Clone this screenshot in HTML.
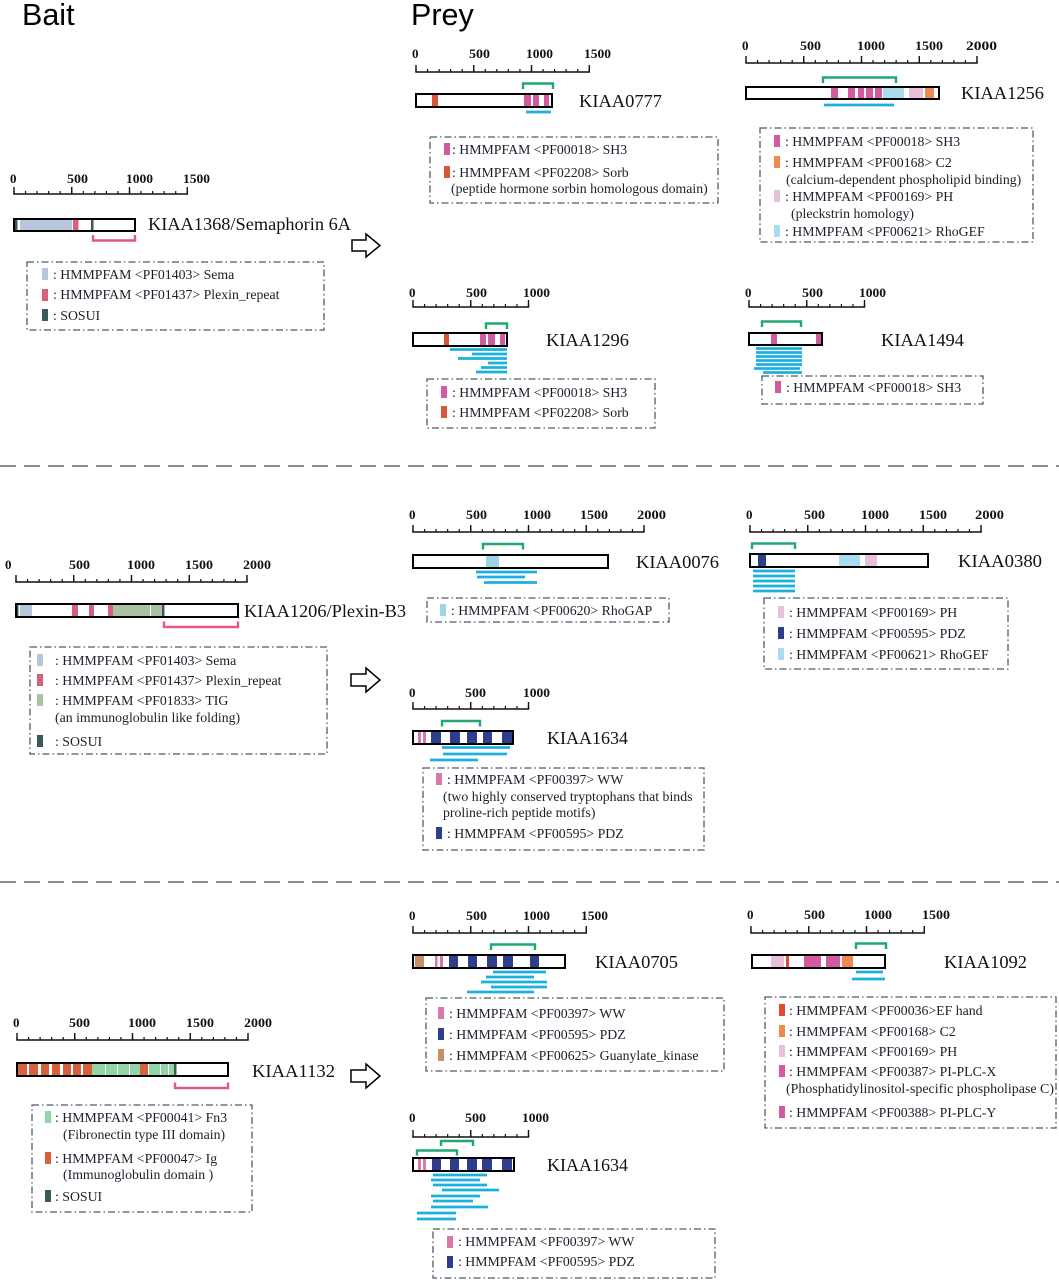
<!DOCTYPE html>
<html><head><meta charset="utf-8">
<style>
html,body{margin:0;padding:0;background:#fff;}
svg{display:block;}
.lg{font-family:"Liberation Serif",serif;font-size:13.8px;fill:#1d1d2b;}
.nm{font-family:"Liberation Serif",serif;font-size:18.4px;fill:#111;}
.sc{font-family:"Liberation Serif",serif;font-size:13px;font-weight:bold;fill:#111;}
.hd{font-family:"Liberation Sans",sans-serif;font-size:30.5px;fill:#000;}
.box{fill:none;stroke:#4e5a68;stroke-width:1.3;stroke-dasharray:7 3 1.5 3;}
.bar{fill:none;stroke:#000;stroke-width:2;}
.gb{fill:none;stroke:#20a870;stroke-width:2.4;}
.pb{fill:none;stroke:#e35a80;stroke-width:2.4;}
.cy{stroke:#1cb0de;stroke-width:2.8;}
.rm{stroke:#111;stroke-width:1.6;}
.rn{stroke:#111;stroke-width:3;stroke-dasharray:1.2 10.35;}
.rj{stroke:#111;stroke-width:7;stroke-dasharray:1.4 56.35;}
.ar{fill:#fff;stroke:#000;stroke-width:1.5;}
.sep{stroke:#444;stroke-width:1.2;stroke-dasharray:16 8;}
</style></head><body>
<svg width="1059" height="1280" viewBox="0 0 1059 1280" xmlns="http://www.w3.org/2000/svg">
<rect width="1059" height="1280" fill="#fff"/>

<text class="hd" x="22" y="25">Bait</text>
<text class="hd" x="411" y="25">Prey</text>

<line class="sep" x1="0" y1="466" x2="1059" y2="466"/>
<line class="sep" x1="0" y1="882" x2="1059" y2="882"/>

<!-- ================= SECTION 1 ================= -->
<g>
<line class="rm" x1="13.3" y1="194" x2="188" y2="194"/>
<line class="rn" x1="13.4" y1="192.5" x2="188" y2="192.5"/>
<line class="rj" x1="13.3" y1="190.5" x2="188" y2="190.5"/>
<text class="sc" x="10" y="183">0</text>
<text class="sc" x="67" y="183" textLength="21" lengthAdjust="spacingAndGlyphs">500</text>
<text class="sc" x="126" y="183" textLength="27" lengthAdjust="spacingAndGlyphs">1000</text>
<text class="sc" x="183" y="183" textLength="27" lengthAdjust="spacingAndGlyphs">1500</text>
</g>
<rect x="14" y="219" width="121" height="12" fill="#fff"/>
<rect x="15" y="219" width="2.5" height="12" fill="#3c5858"/>
<rect x="20" y="219" width="52" height="12" fill="#b7c5dd"/>
<rect x="73" y="219" width="5.5" height="12" fill="#d9607c"/>
<rect x="91" y="219" width="2.5" height="12" fill="#3c5858"/>
<rect class="bar" x="14" y="219" width="121" height="12"/>
<path class="pb" d="M93 235 V240.5 H135 V235"/>
<text class="nm" x="148" y="230" textLength="203" lengthAdjust="spacingAndGlyphs">KIAA1368/Semaphorin 6A</text>
<path class="ar" d="M352 240 H366 V234 L380 245.5 L366 257 V251 H352 Z"/>
<rect class="box" x="27" y="262" width="297" height="68"/>
<rect x="42" y="268" width="6" height="12" fill="#b7c5dd"/>
<text class="lg" x="53" y="279">: HMMPFAM &lt;PF01403&gt; Sema</text>
<rect x="42" y="289" width="6" height="12" fill="#d9607c"/>
<text class="lg" x="53" y="299">: HMMPFAM &lt;PF01437&gt; Plexin_repeat</text>
<rect x="42" y="309" width="6" height="12" fill="#3c5858"/>
<text class="lg" x="53" y="320">: SOSUI</text>

<!-- KIAA0777 -->
<g>
<line class="rm" x1="415.3" y1="72" x2="590" y2="72"/>
<line class="rn" x1="415.4" y1="70.5" x2="590" y2="70.5"/>
<line class="rj" x1="415.3" y1="68.5" x2="590" y2="68.5"/>
<text class="sc" x="412" y="58">0</text>
<text class="sc" x="469" y="58" textLength="21" lengthAdjust="spacingAndGlyphs">500</text>
<text class="sc" x="526" y="58" textLength="27" lengthAdjust="spacingAndGlyphs">1000</text>
<text class="sc" x="584" y="58" textLength="27" lengthAdjust="spacingAndGlyphs">1500</text>
</g>
<rect x="416" y="94" width="136" height="13" fill="#fff"/>
<rect x="432" y="94" width="6" height="13" fill="#d9553e"/>
<rect x="524" y="94" width="7" height="13" fill="#d45a9f"/>
<rect x="533" y="94" width="6" height="13" fill="#d45a9f"/>
<rect x="544" y="94" width="5" height="13" fill="#d45a9f"/>
<rect class="bar" x="416" y="94" width="136" height="13"/>
<path class="gb" d="M523 89 V83.5 H553 V89"/>
<line class="cy" x1="526" y1="112" x2="551" y2="112"/>
<text class="nm" x="579" y="107" textLength="83" lengthAdjust="spacingAndGlyphs">KIAA0777</text>
<rect class="box" x="430" y="137" width="288" height="66"/>
<rect x="444" y="143" width="6" height="12" fill="#d45a9f"/>
<text class="lg" x="452" y="154">: HMMPFAM &lt;PF00018&gt; SH3</text>
<rect x="444" y="166" width="6" height="12" fill="#d9553e"/>
<text class="lg" x="452" y="177">: HMMPFAM &lt;PF02208&gt; Sorb</text>
<text class="lg" x="451" y="193">(peptide hormone sorbin homologous domain)</text>

<!-- KIAA1256 -->
<g>
<line class="rm" x1="745.3" y1="63" x2="977.7" y2="63"/>
<line class="rn" x1="745.4" y1="61.5" x2="978" y2="61.5"/>
<line class="rj" x1="745.3" y1="59.5" x2="978" y2="59.5"/>
<text class="sc" x="742" y="50">0</text>
<text class="sc" x="800" y="50" textLength="21" lengthAdjust="spacingAndGlyphs">500</text>
<text class="sc" x="857" y="50" textLength="28" lengthAdjust="spacingAndGlyphs">1000</text>
<text class="sc" x="915" y="50" textLength="28" lengthAdjust="spacingAndGlyphs">1500</text>
<text class="sc" x="966" y="50" textLength="31" lengthAdjust="spacingAndGlyphs">2000</text>
</g>
<rect x="746" y="87" width="193" height="12" fill="#fff"/>
<rect x="831" y="87" width="7" height="12" fill="#d45a9f"/>
<rect x="848" y="87" width="7" height="12" fill="#d45a9f"/>
<rect x="858" y="87" width="6" height="12" fill="#d45a9f"/>
<rect x="866" y="87" width="7" height="12" fill="#d45a9f"/>
<rect x="875" y="87" width="7" height="12" fill="#d45a9f"/>
<rect x="883" y="87" width="21" height="12" fill="#a9dcf1"/>
<rect x="909" y="87" width="14" height="12" fill="#e9c0da"/>
<rect x="925" y="87" width="9" height="12" fill="#ee8a4c"/>
<rect class="bar" x="746" y="87" width="193" height="12"/>
<path class="gb" d="M823 83 V77.5 H896 V83"/>
<line class="cy" x1="824" y1="105" x2="894" y2="105"/>
<text class="nm" x="961" y="99" textLength="83" lengthAdjust="spacingAndGlyphs">KIAA1256</text>
<rect class="box" x="760" y="128" width="273" height="114"/>
<rect x="774" y="135" width="6" height="12" fill="#d45a9f"/>
<text class="lg" x="785" y="146">: HMMPFAM &lt;PF00018&gt; SH3</text>
<rect x="774" y="156" width="6" height="12" fill="#ee8a4c"/>
<text class="lg" x="785" y="167">: HMMPFAM &lt;PF00168&gt; C2</text>
<text class="lg" x="786" y="184">(calcium-dependent phospholipid binding)</text>
<rect x="774" y="190" width="6" height="12" fill="#e9c0da"/>
<text class="lg" x="785" y="201">: HMMPFAM &lt;PF00169&gt; PH</text>
<text class="lg" x="791" y="218">(pleckstrin homology)</text>
<rect x="774" y="225" width="6" height="12" fill="#a9dcf1"/>
<text class="lg" x="785" y="236">: HMMPFAM &lt;PF00621&gt; RhoGEF</text>

<!-- KIAA1296 -->
<g>
<line class="rm" x1="412.3" y1="307" x2="529.2" y2="307"/>
<line class="rn" x1="412.4" y1="305.5" x2="529.5" y2="305.5"/>
<line class="rj" x1="412.3" y1="303.5" x2="529.5" y2="303.5"/>
<text class="sc" x="409" y="297">0</text>
<text class="sc" x="466" y="297" textLength="21" lengthAdjust="spacingAndGlyphs">500</text>
<text class="sc" x="523" y="297" textLength="27" lengthAdjust="spacingAndGlyphs">1000</text>
</g>
<rect x="413" y="333" width="94" height="13" fill="#fff"/>
<rect x="444" y="333" width="5" height="13" fill="#d9553e"/>
<rect x="480" y="333" width="6" height="13" fill="#d45a9f"/>
<rect x="488" y="333" width="7" height="13" fill="#d45a9f"/>
<rect x="500" y="333" width="5" height="13" fill="#d45a9f"/>
<rect class="bar" x="413" y="333" width="94" height="13"/>
<path class="gb" d="M486 329 V323.5 H507 V329"/>
<line class="cy" x1="450" y1="349.5" x2="507" y2="349.5"/>
<line class="cy" x1="472" y1="354" x2="507" y2="354"/>
<line class="cy" x1="458" y1="358.5" x2="507" y2="358.5"/>
<line class="cy" x1="488" y1="363" x2="507" y2="363"/>
<line class="cy" x1="481" y1="367.5" x2="507" y2="367.5"/>
<line class="cy" x1="476" y1="372" x2="507" y2="372"/>
<text class="nm" x="546" y="346" textLength="83" lengthAdjust="spacingAndGlyphs">KIAA1296</text>
<rect class="box" x="427" y="379" width="228" height="49"/>
<rect x="441" y="386" width="6" height="12" fill="#d45a9f"/>
<text class="lg" x="452" y="397">: HMMPFAM &lt;PF00018&gt; SH3</text>
<rect x="441" y="406" width="6" height="12" fill="#d9553e"/>
<text class="lg" x="452" y="417">: HMMPFAM &lt;PF02208&gt; Sorb</text>

<!-- KIAA1494 -->
<g>
<line class="rm" x1="748.3" y1="307" x2="865.2" y2="307"/>
<line class="rn" x1="748.4" y1="305.5" x2="865.5" y2="305.5"/>
<line class="rj" x1="748.3" y1="303.5" x2="865.5" y2="303.5"/>
<text class="sc" x="745" y="297">0</text>
<text class="sc" x="802" y="297" textLength="21" lengthAdjust="spacingAndGlyphs">500</text>
<text class="sc" x="859" y="297" textLength="27" lengthAdjust="spacingAndGlyphs">1000</text>
</g>
<rect x="749" y="333" width="73" height="12" fill="#fff"/>
<rect x="771" y="333" width="6" height="12" fill="#d45a9f"/>
<rect x="816" y="333" width="5" height="12" fill="#d45a9f"/>
<rect class="bar" x="749" y="333" width="73" height="12"/>
<path class="gb" d="M762 327 V321.5 H801 V327"/>
<line class="cy" x1="756" y1="348.5" x2="802" y2="348.5"/>
<line class="cy" x1="756" y1="352.5" x2="802" y2="352.5"/>
<line class="cy" x1="756" y1="356.5" x2="802" y2="356.5"/>
<line class="cy" x1="756" y1="360.5" x2="802" y2="360.5"/>
<line class="cy" x1="756" y1="364.5" x2="802" y2="364.5"/>
<line class="cy" x1="754" y1="368.5" x2="800" y2="368.5"/>
<line class="cy" x1="763" y1="372.5" x2="802" y2="372.5"/>
<text class="nm" x="881" y="346" textLength="83" lengthAdjust="spacingAndGlyphs">KIAA1494</text>
<rect class="box" x="762" y="376" width="221" height="28"/>
<rect x="775" y="381" width="6" height="12" fill="#d45a9f"/>
<text class="lg" x="786" y="392">: HMMPFAM &lt;PF00018&gt; SH3</text>

<!-- ================= SECTION 2 ================= -->
<g>
<line class="rm" x1="15.3" y1="582" x2="247.7" y2="582"/>
<line class="rn" x1="15.4" y1="580.5" x2="248" y2="580.5"/>
<line class="rj" x1="15.3" y1="578.5" x2="248" y2="578.5"/>
<text class="sc" x="5" y="569">0</text>
<text class="sc" x="69" y="569" textLength="21" lengthAdjust="spacingAndGlyphs">500</text>
<text class="sc" x="127" y="569" textLength="28" lengthAdjust="spacingAndGlyphs">1000</text>
<text class="sc" x="185" y="569" textLength="28" lengthAdjust="spacingAndGlyphs">1500</text>
<text class="sc" x="243" y="569" textLength="28" lengthAdjust="spacingAndGlyphs">2000</text>
</g>
<rect x="16" y="604" width="222" height="13" fill="#fff"/>
<rect x="16" y="604" width="2.5" height="13" fill="#3c5858"/>
<rect x="20" y="604" width="12" height="13" fill="#b7c5dd"/>
<rect x="72" y="604" width="6" height="13" fill="#d9607c"/>
<rect x="89" y="604" width="5" height="13" fill="#d9607c"/>
<rect x="108" y="604" width="5" height="13" fill="#d9607c"/>
<rect x="113" y="604" width="50" height="13" fill="#a9c3a0"/>
<rect x="150" y="604" width="1" height="13" fill="#fff"/>
<rect x="162" y="604" width="2.5" height="13" fill="#3c5858"/>
<rect class="bar" x="16" y="604" width="222" height="13"/>
<path class="pb" d="M164 621.5 V627 H238 V621.5"/>
<text class="nm" x="244" y="617" textLength="162" lengthAdjust="spacingAndGlyphs">KIAA1206/Plexin-B3</text>
<path class="ar" d="M351 674 H366 V668 L380 680 L366 692 V686 H351 Z"/>
<rect class="box" x="30" y="647" width="297" height="107"/>
<rect x="37" y="654" width="6" height="12" fill="#b7c5dd"/>
<text class="lg" x="55" y="665">: HMMPFAM &lt;PF01403&gt; Sema</text>
<rect x="37" y="674" width="6" height="12" fill="#d9607c"/>
<text class="lg" x="55" y="685">: HMMPFAM &lt;PF01437&gt; Plexin_repeat</text>
<rect x="37" y="694" width="6" height="12" fill="#a9c3a0"/>
<text class="lg" x="55" y="705">: HMMPFAM &lt;PF01833&gt; TIG</text>
<text class="lg" x="55" y="722">(an immunoglobulin like folding)</text>
<rect x="37" y="735" width="6" height="12" fill="#3c5858"/>
<text class="lg" x="55" y="746">: SOSUI</text>

<!-- KIAA0076 -->
<g>
<line class="rm" x1="412.3" y1="532" x2="644.7" y2="532"/>
<line class="rn" x1="412.4" y1="530.5" x2="645" y2="530.5"/>
<line class="rj" x1="412.3" y1="528.5" x2="645" y2="528.5"/>
<text class="sc" x="409" y="519">0</text>
<text class="sc" x="466" y="519" textLength="21" lengthAdjust="spacingAndGlyphs">500</text>
<text class="sc" x="523" y="519" textLength="28" lengthAdjust="spacingAndGlyphs">1000</text>
<text class="sc" x="580" y="519" textLength="28" lengthAdjust="spacingAndGlyphs">1500</text>
<text class="sc" x="637" y="519" textLength="29" lengthAdjust="spacingAndGlyphs">2000</text>
</g>
<rect x="413" y="555" width="195" height="13" fill="#fff"/>
<rect x="486" y="555" width="13" height="13" fill="#9ed5e6"/>
<rect class="bar" x="413" y="555" width="195" height="13"/>
<path class="gb" d="M483 549.5 V544 H523 V549.5"/>
<line class="cy" x1="476" y1="572" x2="537" y2="572"/>
<line class="cy" x1="477" y1="577" x2="525" y2="577"/>
<line class="cy" x1="484" y1="582.5" x2="537" y2="582.5"/>
<text class="nm" x="636" y="568" textLength="83" lengthAdjust="spacingAndGlyphs">KIAA0076</text>
<rect class="box" x="427" y="598" width="242" height="24"/>
<rect x="440" y="604" width="6" height="12" fill="#9ed5e6"/>
<text class="lg" x="451" y="615">: HMMPFAM &lt;PF00620&gt; RhoGAP</text>

<!-- KIAA0380 -->
<g>
<line class="rm" x1="749.3" y1="532" x2="981.7" y2="532"/>
<line class="rn" x1="749.4" y1="530.5" x2="982" y2="530.5"/>
<line class="rj" x1="749.3" y1="528.5" x2="982" y2="528.5"/>
<text class="sc" x="746" y="519">0</text>
<text class="sc" x="804" y="519" textLength="21" lengthAdjust="spacingAndGlyphs">500</text>
<text class="sc" x="861" y="519" textLength="28" lengthAdjust="spacingAndGlyphs">1000</text>
<text class="sc" x="919" y="519" textLength="28" lengthAdjust="spacingAndGlyphs">1500</text>
<text class="sc" x="975" y="519" textLength="29" lengthAdjust="spacingAndGlyphs">2000</text>
</g>
<rect x="750" y="554" width="178" height="13" fill="#fff"/>
<rect x="758" y="554" width="8" height="13" fill="#2f3e8c"/>
<rect x="839" y="554" width="21" height="13" fill="#a9dcf1"/>
<rect x="865" y="554" width="12" height="13" fill="#e9c0da"/>
<rect class="bar" x="750" y="554" width="178" height="13"/>
<path class="gb" d="M752 549 V543.5 H795 V549"/>
<line class="cy" x1="753" y1="571" x2="795" y2="571"/>
<line class="cy" x1="753" y1="576" x2="795" y2="576"/>
<line class="cy" x1="753" y1="581" x2="795" y2="581"/>
<line class="cy" x1="753" y1="586" x2="795" y2="586"/>
<line class="cy" x1="753" y1="591" x2="795" y2="591"/>
<text class="nm" x="958" y="567" textLength="84" lengthAdjust="spacingAndGlyphs">KIAA0380</text>
<rect class="box" x="764" y="598" width="244" height="71"/>
<rect x="778" y="606" width="6" height="12" fill="#e9c0da"/>
<text class="lg" x="789" y="617">: HMMPFAM &lt;PF00169&gt; PH</text>
<rect x="778" y="627" width="6" height="12" fill="#2f3e8c"/>
<text class="lg" x="789" y="638">: HMMPFAM &lt;PF00595&gt; PDZ</text>
<rect x="778" y="648" width="6" height="12" fill="#a9dcf1"/>
<text class="lg" x="789" y="659">: HMMPFAM &lt;PF00621&gt; RhoGEF</text>

<!-- KIAA1634 (middle) -->
<g>
<line class="rm" x1="412.3" y1="709" x2="529.2" y2="709"/>
<line class="rn" x1="412.4" y1="707.5" x2="529.5" y2="707.5"/>
<line class="rj" x1="412.3" y1="705.5" x2="529.5" y2="705.5"/>
<text class="sc" x="409" y="697">0</text>
<text class="sc" x="465" y="697" textLength="21" lengthAdjust="spacingAndGlyphs">500</text>
<text class="sc" x="523" y="697" textLength="27" lengthAdjust="spacingAndGlyphs">1000</text>
</g>
<rect x="413" y="731" width="100" height="13" fill="#fff"/>
<rect x="418" y="731" width="3" height="13" fill="#d978ad"/>
<rect x="423" y="731" width="3" height="13" fill="#d978ad"/>
<rect x="431" y="731" width="10" height="13" fill="#2f3e8c"/>
<rect x="450" y="731" width="10" height="13" fill="#2f3e8c"/>
<rect x="467" y="731" width="10" height="13" fill="#2f3e8c"/>
<rect x="483" y="731" width="9" height="13" fill="#2f3e8c"/>
<rect x="502" y="731" width="10" height="13" fill="#2f3e8c"/>
<rect class="bar" x="413" y="731" width="100" height="13"/>
<path class="gb" d="M442 726.5 V721 H480 V726.5"/>
<line class="cy" x1="442" y1="747.5" x2="510" y2="747.5"/>
<line class="cy" x1="443" y1="754" x2="507" y2="754"/>
<line class="cy" x1="430" y1="760" x2="478" y2="760"/>
<text class="nm" x="547" y="744" textLength="81" lengthAdjust="spacingAndGlyphs">KIAA1634</text>
<rect class="box" x="423" y="768" width="281" height="82"/>
<rect x="436" y="773" width="6" height="12" fill="#d978ad"/>
<text class="lg" x="447" y="784">: HMMPFAM &lt;PF00397&gt; WW</text>
<text class="lg" x="443" y="801">(two highly conserved tryptophans that binds</text>
<text class="lg" x="443" y="817">proline-rich peptide motifs)</text>
<rect x="436" y="827" width="6" height="12" fill="#2f3e8c"/>
<text class="lg" x="447" y="838">: HMMPFAM &lt;PF00595&gt; PDZ</text>

<!-- ================= SECTION 3 ================= -->
<g>
<line class="rm" x1="16.3" y1="1040" x2="248.7" y2="1040"/>
<line class="rn" x1="16.4" y1="1038.5" x2="249" y2="1038.5"/>
<line class="rj" x1="16.3" y1="1036.5" x2="249" y2="1036.5"/>
<text class="sc" x="13" y="1027">0</text>
<text class="sc" x="69" y="1027" textLength="21" lengthAdjust="spacingAndGlyphs">500</text>
<text class="sc" x="128" y="1027" textLength="28" lengthAdjust="spacingAndGlyphs">1000</text>
<text class="sc" x="186" y="1027" textLength="28" lengthAdjust="spacingAndGlyphs">1500</text>
<text class="sc" x="244" y="1027" textLength="28" lengthAdjust="spacingAndGlyphs">2000</text>
</g>
<rect x="17" y="1063" width="211" height="13" fill="#fff"/>
<rect x="18" y="1063" width="9" height="13" fill="#d9603c"/>
<rect x="29" y="1063" width="9" height="13" fill="#d9603c"/>
<rect x="41" y="1063" width="8" height="13" fill="#d9603c"/>
<rect x="52" y="1063" width="8" height="13" fill="#d9603c"/>
<rect x="63" y="1063" width="8" height="13" fill="#d9603c"/>
<rect x="73" y="1063" width="8" height="13" fill="#d9603c"/>
<rect x="83" y="1063" width="9" height="13" fill="#d9603c"/>
<rect x="92" y="1063" width="48" height="13" fill="#92d6a8"/>
<rect x="105" y="1063" width="1" height="13" fill="#fff"/>
<rect x="117" y="1063" width="1" height="13" fill="#fff"/>
<rect x="129" y="1063" width="1" height="13" fill="#fff"/>
<rect x="140" y="1063" width="8" height="13" fill="#d9603c"/>
<rect x="149" y="1063" width="25" height="13" fill="#92d6a8"/>
<rect x="160" y="1063" width="1" height="13" fill="#fff"/>
<rect x="168" y="1063" width="1" height="13" fill="#fff"/>
<rect x="174" y="1063" width="2.5" height="13" fill="#3c5858"/>
<rect class="bar" x="17" y="1063" width="211" height="13"/>
<path class="pb" d="M175 1082.5 V1088 H228 V1082.5"/>
<text class="nm" x="252" y="1077" textLength="83" lengthAdjust="spacingAndGlyphs">KIAA1132</text>
<path class="ar" d="M351 1070 H366 V1064 L380 1076 L366 1088 V1082 H351 Z"/>
<rect class="box" x="32" y="1105" width="220" height="107"/>
<rect x="45" y="1111" width="6" height="12" fill="#92d6a8"/>
<text class="lg" x="55" y="1122">: HMMPFAM &lt;PF00041&gt; Fn3</text>
<text class="lg" x="63" y="1139">(Fibronectin type III domain)</text>
<rect x="45" y="1152" width="6" height="12" fill="#d9603c"/>
<text class="lg" x="55" y="1163">: HMMPFAM &lt;PF00047&gt; Ig</text>
<text class="lg" x="63" y="1179">(Immunoglobulin domain )</text>
<rect x="45" y="1190" width="6" height="12" fill="#3c5858"/>
<text class="lg" x="55" y="1201">: SOSUI</text>

<!-- KIAA0705 -->
<g>
<line class="rm" x1="412.3" y1="933" x2="587" y2="933"/>
<line class="rn" x1="412.4" y1="931.5" x2="587" y2="931.5"/>
<line class="rj" x1="412.3" y1="929.5" x2="587" y2="929.5"/>
<text class="sc" x="409" y="920">0</text>
<text class="sc" x="466" y="920" textLength="21" lengthAdjust="spacingAndGlyphs">500</text>
<text class="sc" x="523" y="920" textLength="27" lengthAdjust="spacingAndGlyphs">1000</text>
<text class="sc" x="581" y="920" textLength="27" lengthAdjust="spacingAndGlyphs">1500</text>
</g>
<rect x="413" y="955" width="152" height="13" fill="#fff"/>
<rect x="415" y="955" width="9" height="13" fill="#c98f66"/>
<rect x="435" y="955" width="2.5" height="13" fill="#d978ad"/>
<rect x="440" y="955" width="3" height="13" fill="#d978ad"/>
<rect x="449" y="955" width="9" height="13" fill="#2f3e8c"/>
<rect x="468" y="955" width="9" height="13" fill="#2f3e8c"/>
<rect x="487" y="955" width="10" height="13" fill="#2f3e8c"/>
<rect x="503" y="955" width="10" height="13" fill="#2f3e8c"/>
<rect x="530" y="955" width="9" height="13" fill="#2f3e8c"/>
<rect class="bar" x="413" y="955" width="152" height="13"/>
<path class="gb" d="M491 950 V944.5 H535 V950"/>
<line class="cy" x1="493" y1="972" x2="546" y2="972"/>
<line class="cy" x1="486" y1="977" x2="534" y2="977"/>
<line class="cy" x1="481" y1="982" x2="547" y2="982"/>
<line class="cy" x1="491" y1="987" x2="547" y2="987"/>
<line class="cy" x1="467" y1="992" x2="534" y2="992"/>
<text class="nm" x="595" y="968" textLength="83" lengthAdjust="spacingAndGlyphs">KIAA0705</text>
<rect class="box" x="426" y="998" width="298" height="73"/>
<rect x="438" y="1007" width="6" height="12" fill="#d978ad"/>
<text class="lg" x="449" y="1018">: HMMPFAM &lt;PF00397&gt; WW</text>
<rect x="438" y="1028" width="6" height="12" fill="#2f3e8c"/>
<text class="lg" x="449" y="1039">: HMMPFAM &lt;PF00595&gt; PDZ</text>
<rect x="438" y="1049" width="6" height="12" fill="#c98f66"/>
<text class="lg" x="449" y="1060">: HMMPFAM &lt;PF00625&gt; Guanylate_kinase</text>

<!-- KIAA1092 -->
<g>
<line class="rm" x1="750.3" y1="933" x2="925" y2="933"/>
<line class="rn" x1="750.4" y1="931.5" x2="925" y2="931.5"/>
<line class="rj" x1="750.3" y1="929.5" x2="925" y2="929.5"/>
<text class="sc" x="747" y="919">0</text>
<text class="sc" x="804" y="919" textLength="21" lengthAdjust="spacingAndGlyphs">500</text>
<text class="sc" x="864" y="919" textLength="28" lengthAdjust="spacingAndGlyphs">1000</text>
<text class="sc" x="922" y="919" textLength="28" lengthAdjust="spacingAndGlyphs">1500</text>
</g>
<rect x="752" y="955" width="133" height="13" fill="#fff"/>
<rect x="771" y="955" width="13" height="13" fill="#e9c0da"/>
<rect x="786" y="955" width="3" height="13" fill="#e2492e"/>
<rect x="804" y="955" width="17" height="13" fill="#d35a9f"/>
<rect x="826" y="955" width="14" height="13" fill="#d35a9f"/>
<rect x="842" y="955" width="11" height="13" fill="#ee8a4c"/>
<rect class="bar" x="752" y="955" width="133" height="13"/>
<path class="gb" d="M856 949 V943.5 H886 V949"/>
<line class="cy" x1="856" y1="972" x2="883" y2="972"/>
<line class="cy" x1="852" y1="979" x2="885" y2="979"/>
<text class="nm" x="944" y="968" textLength="83" lengthAdjust="spacingAndGlyphs">KIAA1092</text>
<rect class="box" x="765" y="997" width="291" height="131"/>
<rect x="779" y="1004" width="6" height="12" fill="#e2492e"/>
<text class="lg" x="789" y="1015">: HMMPFAM &lt;PF00036&gt;EF hand</text>
<rect x="779" y="1025" width="6" height="12" fill="#ee8a4c"/>
<text class="lg" x="789" y="1036">: HMMPFAM &lt;PF00168&gt; C2</text>
<rect x="779" y="1045" width="6" height="12" fill="#e9c0da"/>
<text class="lg" x="789" y="1056">: HMMPFAM &lt;PF00169&gt; PH</text>
<rect x="779" y="1065" width="6" height="12" fill="#d35a9f"/>
<text class="lg" x="789" y="1076">: HMMPFAM &lt;PF00387&gt; PI-PLC-X</text>
<text class="lg" x="786" y="1093" textLength="268" lengthAdjust="spacingAndGlyphs">(Phosphatidylinositol-specific phospholipase C)</text>
<rect x="779" y="1106" width="6" height="12" fill="#d35a9f"/>
<text class="lg" x="789" y="1117">: HMMPFAM &lt;PF00388&gt; PI-PLC-Y</text>

<!-- KIAA1634 (bottom) -->
<g>
<line class="rm" x1="412.3" y1="1137" x2="529.2" y2="1137"/>
<line class="rn" x1="412.4" y1="1135.5" x2="529.5" y2="1135.5"/>
<line class="rj" x1="412.3" y1="1133.5" x2="529.5" y2="1133.5"/>
<text class="sc" x="409" y="1122">0</text>
<text class="sc" x="465" y="1122" textLength="21" lengthAdjust="spacingAndGlyphs">500</text>
<text class="sc" x="522" y="1122" textLength="27" lengthAdjust="spacingAndGlyphs">1000</text>
</g>
<rect x="413" y="1158" width="101" height="13" fill="#fff"/>
<rect x="418" y="1158" width="3" height="13" fill="#d978ad"/>
<rect x="423" y="1158" width="3" height="13" fill="#d978ad"/>
<rect x="432" y="1158" width="9" height="13" fill="#2f3e8c"/>
<rect x="450" y="1158" width="9" height="13" fill="#2f3e8c"/>
<rect x="467" y="1158" width="10" height="13" fill="#2f3e8c"/>
<rect x="482" y="1158" width="10" height="13" fill="#2f3e8c"/>
<rect x="502" y="1158" width="10" height="13" fill="#2f3e8c"/>
<rect class="bar" x="413" y="1158" width="101" height="13"/>
<path class="gb" d="M441 1146 V1141 H473 V1146"/>
<path class="gb" d="M417 1155.5 V1150.5 H457 V1155.5"/>
<line class="cy" x1="433" y1="1175" x2="487" y2="1175"/>
<line class="cy" x1="431" y1="1180" x2="480" y2="1180"/>
<line class="cy" x1="433" y1="1185" x2="487" y2="1185"/>
<line class="cy" x1="442" y1="1190" x2="499" y2="1190"/>
<line class="cy" x1="431" y1="1196" x2="480" y2="1196"/>
<line class="cy" x1="433" y1="1201" x2="473" y2="1201"/>
<line class="cy" x1="431" y1="1207" x2="488" y2="1207"/>
<line class="cy" x1="417" y1="1213" x2="456" y2="1213"/>
<line class="cy" x1="417" y1="1219" x2="456" y2="1219"/>
<text class="nm" x="547" y="1171" textLength="81" lengthAdjust="spacingAndGlyphs">KIAA1634</text>
<rect class="box" x="433" y="1229" width="282" height="49"/>
<rect x="447" y="1236" width="6" height="12" fill="#d978ad"/>
<text class="lg" x="458" y="1246">: HMMPFAM &lt;PF00397&gt; WW</text>
<rect x="447" y="1256" width="6" height="12" fill="#2f3e8c"/>
<text class="lg" x="458" y="1266">: HMMPFAM &lt;PF00595&gt; PDZ</text>

</svg>
</body></html>
